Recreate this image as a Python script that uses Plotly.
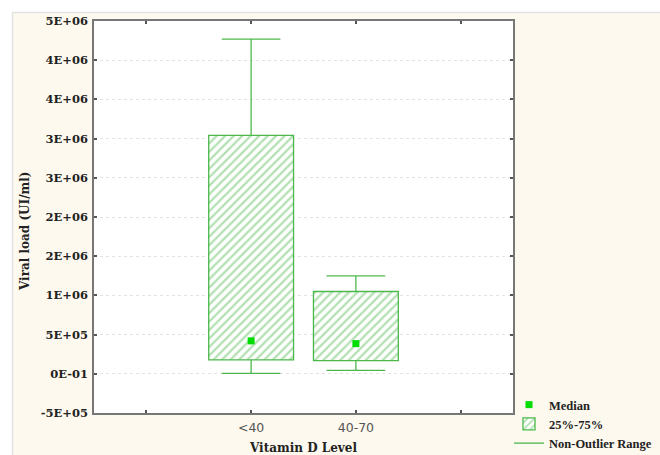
import plotly.graph_objects as go

# ---- data ----
categories = ["<40", "40-70"]
q1 = [1.78e5, 1.68e5]
q3 = [3.04e6, 1.05e6]
upper = [4.27e6, 1.25e6]
lower = [5.0e3, 4.3e4]
median = [4.2e5, 3.85e5]

x_tick_labels = ["", "<40", "40-70", ""]
y_tick_values = [-5e5, 0, 5e5, 1e6, 1.5e6, 2e6, 2.5e6, 3e6, 3.5e6, 4e6, 4.5e6]
y_tick_labels = ["-5E+05", "0E-01", "5E+05", "1E+06", "2E+06", "2E+06",
                 "3E+06", "3E+06", "4E+06", "4E+06", "5E+06"]

# ---- styles ----
GREEN = "#4cb84c"
HATCH = "#66c466"
MED_GREEN = "#00dd00"
CREAM = "#fdf9ee"
BOX_WIDTH = 0.81
CAP_HALF = 0.28
SERIF = "DejaVu Serif"

pos = [x_tick_labels.index(c) for c in categories]

fig = go.Figure()

# whiskers (drawn from the data arrays)
wx, wy = [], []
for p, a, b, lo, hi in zip(pos, q1, q3, lower, upper):
    wx += [p, p, None, p - CAP_HALF, p + CAP_HALF, None,
           p, p, None, p - CAP_HALF, p + CAP_HALF, None]
    wy += [b, hi, None, hi, hi, None,
           a, lo, None, lo, lo, None]

fig.add_trace(go.Scatter(
    x=wx, y=wy, mode="lines", line=dict(color=GREEN, width=1.3),
    name="Non-Outlier Range", hoverinfo="skip", legendrank=3))

# boxes (25%-75%)
fig.add_trace(go.Bar(
    x=pos, base=q1, y=[b - a for a, b in zip(q1, q3)], width=BOX_WIDTH,
    marker=dict(color="white", line=dict(color=GREEN, width=1.3),
                pattern=dict(shape="/", fgcolor=HATCH, size=6, solidity=0.38)),
    name="25%-75%", legendrank=2))

# medians
fig.add_trace(go.Scatter(
    x=pos, y=median, mode="markers",
    marker=dict(symbol="square", size=7, color=MED_GREEN),
    name="Median", legendrank=1))

L, R, T, B = 94, 147, 21, 42
W, H = 660, 455
pw, ph = W - L - R, H - T - B


def px_x(v):
    return (v - L) / pw


def px_y(v):
    return (H - B - v) / ph


shapes = [
    # white strip on top and left with light grey border
    dict(type="rect", xref="paper", yref="paper", x0=px_x(-5), x1=px_x(W + 5),
         y0=px_y(12.5), y1=px_y(-5), fillcolor="white", line=dict(width=0), layer="above"),
    dict(type="rect", xref="paper", yref="paper", x0=px_x(-5), x1=px_x(12.5),
         y0=px_y(H + 5), y1=px_y(-5), fillcolor="white", line=dict(width=0), layer="above"),
    dict(type="line", xref="paper", yref="paper", x0=px_x(12.5), x1=px_x(W + 5),
         y0=px_y(12.5), y1=px_y(12.5), line=dict(color="#e2e2e2", width=1.5), layer="above"),
    dict(type="line", xref="paper", yref="paper", x0=px_x(12.5), x1=px_x(12.5),
         y0=px_y(12.5), y1=px_y(H + 5), line=dict(color="#e2e2e2", width=1.5), layer="above"),
]

fig.update_layout(
    width=W, height=H,
    margin=dict(l=L, r=R, t=T, b=B, pad=0, autoexpand=False),
    paper_bgcolor=CREAM, plot_bgcolor="white",
    barmode="overlay",
    shapes=shapes,
    showlegend=True,
    legend=dict(x=px_x(509), y=px_y(390), xanchor="left", yanchor="top",
                bgcolor="rgba(0,0,0,0)", traceorder="normal",
                font=dict(family="Liberation Serif", size=12.5, color="#222", weight="bold")),
    annotations=[
        dict(text="Viral load (UI/ml)", textangle=-90, xref="paper", yref="paper",
             x=px_x(25), y=px_y(232), showarrow=False, xanchor="center", yanchor="middle",
             font=dict(family=SERIF, size=12, color="#222", weight="bold")),
    ],
    font=dict(family=SERIF),
)

fig.update_xaxes(
    range=[-0.5, 3.5], tickvals=list(range(len(x_tick_labels))), ticktext=x_tick_labels,
    showgrid=False, zeroline=False, automargin=False,
    showline=True, linecolor="#777", linewidth=1.5, mirror="ticks",
    ticks="inside", ticklen=3, tickcolor="#555", tickwidth=1.5,
    tickfont=dict(family="DejaVu Sans", size=12.5, color="#555"),
    ticklabelstandoff=2,
    title=dict(text="Vitamin D Level", standoff=12,
               font=dict(family=SERIF, size=12, color="#222", weight="bold")),
)

fig.update_yaxes(
    range=[-5e5, 4.5e6], tickvals=y_tick_values, ticktext=y_tick_labels,
    showgrid=True, gridcolor="#e2e2e2", griddash="dot", gridwidth=1,
    zeroline=False, automargin=False,
    showline=True, linecolor="#777", linewidth=1.5, mirror="ticks",
    ticks="inside", ticklen=3, tickcolor="#555", tickwidth=1.5,
    tickfont=dict(family=SERIF, size=11.5, color="#222", weight="bold"),
    ticklabelstandoff=2,
)

fig.write_html(
    "out.html",
    config={"displayModeBar": False},
    post_script="document.body.style.margin='0';document.body.style.overflow='hidden';",
)
